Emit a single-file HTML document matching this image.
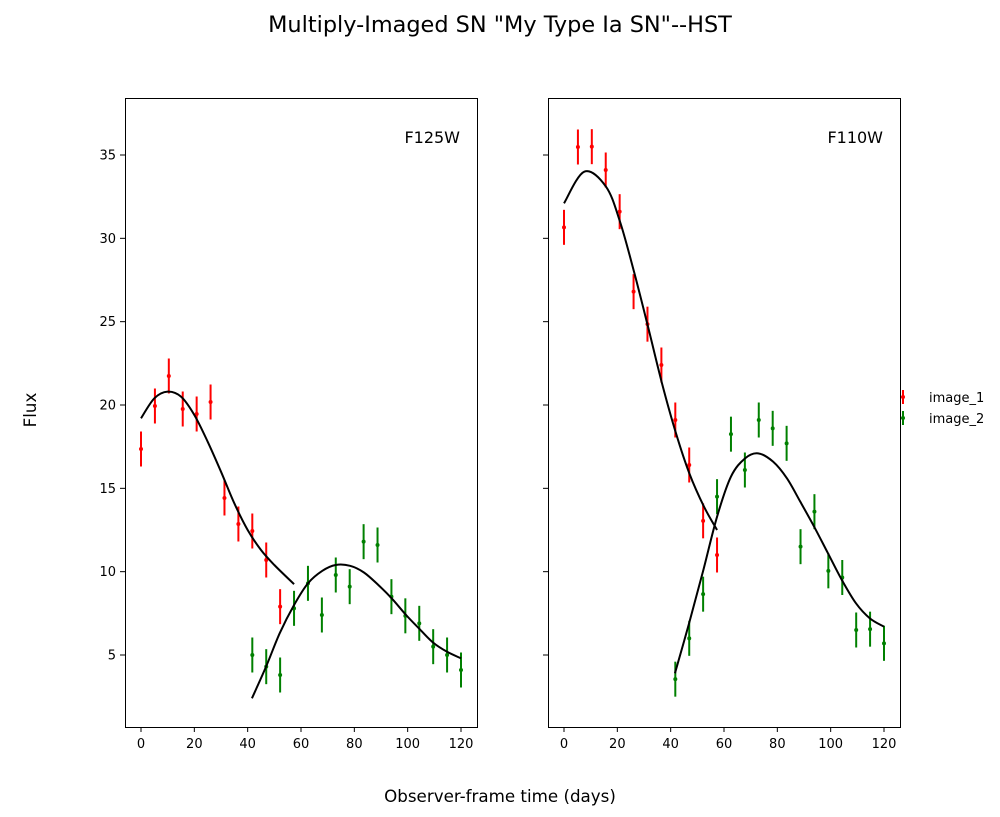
<!DOCTYPE html>
<html><head><meta charset="utf-8">
<style>
html,body{margin:0;padding:0;background:#fff;}
svg{display:block;font-family:"DejaVu Sans","Liberation Sans",sans-serif;}
</style></head>
<body>
<svg id="chart" width="1000" height="817" viewBox="0 0 1000 817">
<text x="500" y="32" text-anchor="middle" font-size="22.4">Multiply-Imaged SN "My Type Ia SN"--HST</text>
<text x="500" y="802" text-anchor="middle" font-size="16.7">Observer-frame time (days)</text>
<text x="36" y="410" text-anchor="middle" font-size="16.7" transform="rotate(-90 36 410)">Flux</text>
<g>
<g><line x1="903" y1="390" x2="903" y2="404" stroke="red" stroke-width="2"/><circle cx="903" cy="397" r="2" fill="red"/><text x="929" y="402" font-size="13">image_1</text></g>
<g><line x1="903" y1="411" x2="903" y2="425" stroke="green" stroke-width="2"/><circle cx="903" cy="418" r="2" fill="green"/><text x="929" y="423" font-size="13">image_2</text></g>
</g>
</svg>
<script>
const times = [0,5.22,10.43,15.65,20.87,26.09,31.3,36.52,41.74,46.96,52.17,57.39,62.61,67.83,73.04,78.26,83.48,88.7,93.91,99.13,104.35,109.57,114.78,120];
const f125Image1Flux = [17.36,19.94,21.74,19.76,19.46,20.18,14.42,12.86,12.44,10.7,7.9];
const f125Image2Flux = [5.0,4.3,3.8,7.8,9.3,7.4,9.8,9.1,11.8,11.6,8.5,7.35,6.9,5.5,5.0,4.1];
const f110Image1Flux = [30.66,35.48,35.5,34.1,31.6,26.8,24.85,22.4,19.1,16.4,13.05,11.0];
const f110Image2Flux = [3.55,6.0,8.65,14.5,18.25,16.1,19.1,18.6,17.7,11.5,13.6,10.05,9.65,6.5,6.55,5.7];
const fluxErr = 1.05;
const f125Model1Days = [0,5,10,15,20,25,30,35,40,45,50,57.4];
const f125Model1Flux = [19.2,20.4,20.8,20.5,19.4,17.8,16.0,14.1,12.5,11.3,10.4,9.25];
const f125Model2Days = [41.6,46.9,52,57.4,62.6,68,73,78.4,83.6,89,94,99.4,104.2,109.5,114.7,120];
const f125Model2Flux = [2.4,4.3,6.3,8.0,9.3,10.05,10.4,10.35,9.95,9.2,8.4,7.4,6.6,5.75,5.2,4.8];
const f110Model1Days = [0,7.6,15.75,21,26.25,31.5,36.75,42,47,52.5,57.4];
const f110Model1Flux = [32.1,34.0,33.1,31.0,28.0,24.7,21.3,18.3,15.9,13.9,12.5];
const f110Model2Days = [41.6,46.9,52.1,57.4,62.6,67.9,72.8,78.4,83.6,88.6,93.8,99,104.2,109.5,114.7,120];
const f110Model2Flux = [3.9,6.9,10.0,13.3,15.7,16.8,17.1,16.6,15.6,14.2,12.7,11.1,9.5,8.1,7.2,6.7];
const xTicks = [0,20,40,60,80,100,120];
const yTicks = [5,10,15,20,25,30,35];

const NS='http://www.w3.org/2000/svg';
const svg=document.getElementById('chart');
function mk(tag,attrs,parent){const e=document.createElementNS(NS,tag);for(const k in attrs)e.setAttribute(k,attrs[k]);(parent||svg).appendChild(e);return e;}
const yScale=v=>655-(v-5)*(500/30);
function spline(pts){let d='M'+pts[0][0]+','+pts[0][1];for(let i=0;i<pts.length-1;i++){const p0=pts[Math.max(0,i-1)],p1=pts[i],p2=pts[i+1],p3=pts[Math.min(pts.length-1,i+2)];const c1=[p1[0]+(p2[0]-p0[0])/6,p1[1]+(p2[1]-p0[1])/6],c2=[p2[0]-(p3[0]-p1[0])/6,p2[1]-(p3[1]-p1[1])/6];d+=' C'+c1+' '+c2+' '+p2;}return d;}

function panel(name,left,label,showLabels,s1,s2,m1d,m1f,m2d,m2f){
  const x0=left+16;const xScale=t=>x0+t*(320/120);
  const g=mk('g',{});
  
  
  xTicks.forEach(t=>{const x=xScale(t);mk('line',{x1:x,y1:727,x2:x,y2:732,stroke:'#000','stroke-width':1},g);
    const tx=mk('text',{x:x,y:748,'text-anchor':'middle','font-size':13},g);tx.textContent=t;
    
    });
  yTicks.forEach(v=>{const y=yScale(v);mk('line',{x1:left-5,y1:y,x2:left,y2:y,stroke:'#000','stroke-width':1},g);
    if(showLabels){const ty=mk('text',{x:left-9,y:y+4.5,'text-anchor':'end','font-size':13},g);ty.textContent=v;
    
    }});
  function pts(arr,start,color,series){arr.forEach((v,i)=>{const x=xScale(times[start+i]),y=yScale(v);
    const e=mk('g',{},g);
    
    
    mk('line',{x1:x,y1:yScale(v+fluxErr),x2:x,y2:yScale(v-fluxErr),stroke:color,'stroke-width':2},e);
    mk('circle',{cx:x,cy:y,r:2,fill:color},e);});}
  pts(s1,0,'red','image-1');pts(s2,8,'green','image-2');
  const c1=mk('path',{d:spline(m1d.map((t,i)=>[xScale(t),yScale(m1f[i])])),fill:'none',stroke:'#000','stroke-width':2},g);
  
  
  const c2=mk('path',{d:spline(m2d.map((t,i)=>[xScale(t),yScale(m2f[i])])),fill:'none',stroke:'#000','stroke-width':2},g);
  
  
  const fr=mk('rect',{x:left+0.5,y:98.5,width:352,height:629,fill:'none',stroke:'#000','stroke-width':1},g);
  
  
  const lb=mk('text',{x:left+335,y:143,'text-anchor':'end','font-size':16},g);lb.textContent=label;
  
  
}
panel('f125w',125,'F125W',true,f125Image1Flux,f125Image2Flux,f125Model1Days,f125Model1Flux,f125Model2Days,f125Model2Flux);
panel('f110w',548,'F110W',false,f110Image1Flux,f110Image2Flux,f110Model1Days,f110Model1Flux,f110Model2Days,f110Model2Flux);
</script>
</body></html>
